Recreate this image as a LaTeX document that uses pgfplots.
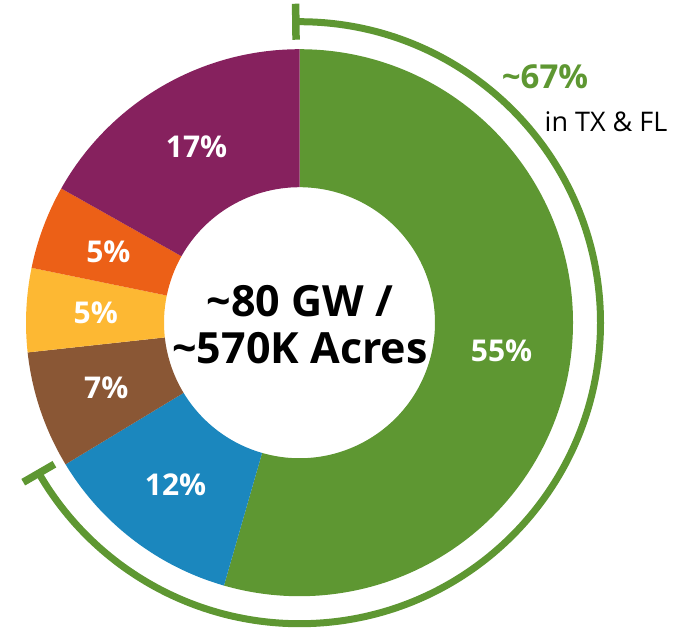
\documentclass[border=0pt]{standalone}
\usepackage{pgfplots}
\pgfplotsset{compat=1.18}
\usepackage{pgfplotstable}
\usepackage{fontspec}
\setmainfont{Open Sans}

\definecolor{cgreen}{HTML}{5E9732}
\definecolor{cblue}{HTML}{1B87BE}
\definecolor{cbrown}{HTML}{8A5735}
\definecolor{cyellow}{HTML}{FDB833}
\definecolor{corange}{HTML}{EC6017}
\definecolor{cpurple}{HTML}{86215E}

% shares, clockwise from 12 o'clock
\pgfplotstableread{
share col
55 cgreen
12 cblue
7  cbrown
5  cyellow
5  corange
17 cpurple
}\sharetable

\begin{document}
\begin{tikzpicture}
\begin{axis}[x=1bp, y=1bp, xmin=0, xmax=674, ymin=0, ymax=627,
  hide axis, clip=false]
\pgfplotsextra{
  \def\cx{299.5}\def\cy{305.5}
  \def\ro{273.5}\def\ri{135.5}
  \path (axis cs:0,0) rectangle (axis cs:674,627);
  % total (labels are rounded, sum is 101)
  \def\tot{0}
  \pgfplotsforeachungrouped \i in {0,...,5}{%
    \pgfplotstablegetelem{\i}{share}\of\sharetable
    \pgfmathsetmacro\tot{\tot+\pgfplotsretval}}
  \def\acc{0}
  \pgfplotsforeachungrouped \i in {0,...,5}{%
    \pgfplotstablegetelem{\i}{share}\of\sharetable \let\val\pgfplotsretval
    \pgfplotstablegetelem{\i}{col}\of\sharetable \let\col\pgfplotsretval
    \pgfmathsetmacro\angA{90-(\acc/\tot)*360}
    \pgfmathsetmacro\angB{90-((\acc+\val)/\tot)*360}
    \pgfmathsetmacro\angM{(\angA+\angB)/2}
    \fill[\col] (axis cs:{\cx+\ro*cos(\angA)},{\cy+\ro*sin(\angA)})
      arc[start angle=\angA, end angle=\angB, radius=\ro bp]
      -- (axis cs:{\cx+\ri*cos(\angB)},{\cy+\ri*sin(\angB)})
      arc[start angle=\angB, end angle=\angA, radius=\ri bp] -- cycle;
    \node[text=white, inner sep=0pt,
      font=\bfseries\fontsize{30bp}{32bp}\selectfont]
      at (axis cs:{\cx+204*cos(\angM)},{\cy+204*sin(\angM)}) {\val\%};
    \pgfmathsetmacro\acc{\acc+\val}
  }
  % bracket arc for TX & FL
  \def\ra{301}
  \draw[cgreen, line width=7bp]
    (axis cs:{\cx+\ra*cos(90.7)},{\cy+\ra*sin(90.7)})
    arc[start angle=90.7, end angle=-150, radius=\ra bp];
  \foreach \t in {90.7,-150}{
    \draw[cgreen, line width=7.5bp]
      (axis cs:{\cx+283*cos(\t)},{\cy+283*sin(\t)}) --
      (axis cs:{\cx+319*cos(\t)},{\cy+319*sin(\t)});
  }
  \node[text=cgreen, anchor=base, inner sep=0pt,
    font=\bfseries\fontsize{33bp}{35bp}\selectfont]
    at (axis cs:545,540) {\textasciitilde67\%};
  \node[anchor=base, inner sep=0pt, font=\fontsize{27bp}{29bp}\selectfont]
    at (axis cs:606,497) {in TX \& FL};
  % centre text
  \node[anchor=base, inner sep=0pt, font=\bfseries\fontsize{43bp}{45bp}\selectfont]
    at (axis cs:300,312) {\textasciitilde80 GW /};
  \node[anchor=base, inner sep=0pt, font=\bfseries\fontsize{43bp}{45bp}\selectfont]
    at (axis cs:300,265) {\textasciitilde570K Acres};
}
\end{axis}
\end{tikzpicture}
\end{document}
